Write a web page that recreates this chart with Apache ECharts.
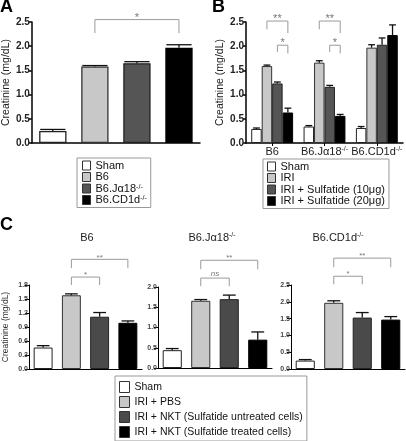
<!DOCTYPE html>
<html><head><meta charset="utf-8">
<script src="https://cdn.jsdelivr.net/npm/echarts@6/dist/echarts.min.js"></script>
<style>html,body{margin:0;padding:0;background:#fff}#c{width:406px;height:441px}</style>
</head><body><div id="c"></div>
<script>
const FONT = '"Liberation Sans", Arial, sans-serif';
// ---- Panel A ----
const aNames = ['Sham', 'B6', 'B6.Jα18-/-', 'B6.CD1d-/-'];
const aMean = [0.25, 1.58, 1.65, 1.97];
const aSem = [0.03, 0.02, 0.03, 0.06];
// significance: [cat1, cat2, level, dropLeft, dropRight, text]
const aSig = [[1, 3, 2.55, 2.27, 2.27, '*']];
// ---- Panel B ----
const bGroups = ['B6', 'B6.Jα18-/-', 'B6.CD1d-/-'];
const bNames = ['Sham', 'IRI', 'IRI + Sulfatide (10μg)', 'IRI + Sulfatide (20μg)'];
const bSham = [0.29, 0.34, 0.31];
const bIRI = [1.59, 1.66, 1.97];
const bSulf10 = [1.23, 1.16, 2.03];
const bSulf20 = [0.63, 0.56, 2.23];
const bShamSem = [0.02, 0.02, 0.03];
const bIRISem = [0.02, 0.04, 0.06];
const bSulf10Sem = [0.03, 0.03, 0.14];
const bSulf20Sem = [0.09, 0.03, 0.21];
// [group, series1, series2, level, dropLeft, dropRight, text]
const bSig = [[0, 1, 3, 2.52, 2.35, 2.27, '**'], [0, 2, 3, 2.02, 1.88, 1.85, '*'],
              [1, 1, 3, 2.52, 2.35, 2.27, '**'], [1, 2, 3, 2.02, 1.88, 1.85, '*']];
// ---- Panel C ----
const cTitles = ['B6', 'B6.Jα18-/-', 'B6.CD1d-/-'];
const cNames = ['Sham', 'IRI + PBS', 'IRI + NKT (Sulfatide untreated cells)', 'IRI + NKT (Sulfatide treated cells)'];
const cB6 = [0.46, 1.58, 1.12, 0.99];
const cB6Sem = [0.04, 0.03, 0.09, 0.04];
const cJa18 = [0.44, 1.66, 1.70, 0.70];
const cJa18Sem = [0.04, 0.03, 0.10, 0.19];
const cCD1d = [0.25, 1.97, 1.53, 1.47];
const cCD1dSem = [0.03, 0.06, 0.15, 0.09];
const cYMax = [1.8, 2.0, 2.5];
const cYStep = [0.3, 0.5, 0.5];
const cSigB6 = [[1, 3, 2.35, 2.16, 2.16, '**'], [1, 2, 1.97, 1.80, 1.80, '*']];
const cSigJa18 = [[1, 3, 2.66, 2.44, 2.44, '**'], [1, 2, 2.22, 2.02, 2.02, 'ns']];
const cSigCD1d = [[1, 3, 3.30, 3.03, 3.03, '**'], [1, 2, 2.76, 2.52, 2.52, '*']];

const fills = ['#ffffff', '#c8c8c8', '#555555', '#000000'];
const fillsC = ['#ffffff', '#c8c8c8', '#4a4a4a', '#000000'];
const borders = ['#222222', '#333333', '#222222', '#000000'];

const supFmt = s => s.replace('-/-', '{s|-/-}');

function errRender(capFrac) {
  return function (params, api) {
    const cat = api.value(0), off = api.value(1), m = api.value(2), t = api.value(3);
    const w = api.size([1, 0])[0];
    const p0 = api.coord([cat, m]), p1 = api.coord([cat, t]);
    const x = p0[0] + off * w, hw = capFrac * w / 2;
    return { type: 'group', children: [
      { type: 'line', shape: { x1: x, y1: p0[1], x2: x, y2: p1[1] }, style: { stroke: '#111', lineWidth: 1.3 } },
      { type: 'line', shape: { x1: x - hw, y1: p1[1], x2: x + hw, y2: p1[1] }, style: { stroke: '#111', lineWidth: 1.3 } }
    ] };
  };
}
function sigRender(texts, fs) {
  return function (params, api) {
    const c1 = api.value(0), o1 = api.value(1), c2 = api.value(2), o2 = api.value(3);
    const lv = api.value(4), yl = api.value(5), yr = api.value(6);
    const w = api.size([1, 0])[0];
    const x1 = api.coord([c1, lv])[0] + o1 * w, x2 = api.coord([c2, lv])[0] + o2 * w;
    const yT = api.coord([c1, lv])[1], yL = api.coord([c1, yl])[1], yR = api.coord([c2, yr])[1];
    const txt = texts[params.dataIndex];
    return { type: 'group', children: [
      { type: 'polyline', shape: { points: [[x1, yL], [x1, yT], [x2, yT], [x2, yR]] }, style: { stroke: '#9a9a9a', lineWidth: 1, fill: null } },
      { type: 'text', style: { text: txt, x: (x1 + x2) / 2, y: yT - (txt === 'ns' ? 4 : 2), align: 'center', verticalAlign: 'middle',
        fill: '#777', fontSize: fs, fontFamily: FONT, fontStyle: txt === 'ns' ? 'italic' : 'normal' } }
    ] };
  };
}

const grids = [
  { left: 28, top: 22, width: 172, height: 121 },
  { left: 246, top: 22, width: 157, height: 121 },
  { left: 28, top: 285, width: 114, height: 84 },
  { left: 158, top: 287, width: 114, height: 81 },
  { left: 291, top: 285, width: 114, height: 84 }
];
const idx4 = [0, 1, 2, 3];
const xAxes = [
  { gridIndex: 0, type: 'category', data: idx4, axisLine: { lineStyle: { color: '#000', width: 1.5 } }, axisTick: { show: false }, axisLabel: { show: false } },
  { gridIndex: 1, type: 'category', data: bGroups, axisLine: { lineStyle: { color: '#000', width: 1.5 } },
    axisTick: { show: true, alignWithLabel: true, length: 3, lineStyle: { color: '#000' } },
    axisLabel: { interval: 0, hideOverlap: false, margin: 3, fontSize: 11, color: '#222', fontFamily: FONT, formatter: supFmt,
      rich: { s: { fontSize: 7, verticalAlign: 'top', fontFamily: FONT, color: '#222' } } } },
  { gridIndex: 2, type: 'category', data: idx4, axisLine: { lineStyle: { color: '#000', width: 1 } }, axisTick: { show: false }, axisLabel: { show: false } },
  { gridIndex: 3, type: 'category', data: idx4, axisLine: { lineStyle: { color: '#000', width: 1 } }, axisTick: { show: false }, axisLabel: { show: false } },
  { gridIndex: 4, type: 'category', data: idx4, axisLine: { lineStyle: { color: '#000', width: 1 } }, axisTick: { show: false }, axisLabel: { show: false } }
];
function yBig(gi, gap) {
  return { gridIndex: gi, type: 'value', min: 0, max: 2.5, interval: 0.5, splitLine: { show: false },
    axisLine: { show: true, lineStyle: { color: '#000', width: 1.5 } },
    axisTick: { show: true, length: 3, lineStyle: { color: '#000', width: 1.5 } },
    axisLabel: { margin: 2, fontSize: 10, fontWeight: 'bold', color: '#222', fontFamily: FONT, formatter: v => v.toFixed(1) },
    name: 'Creatinine (mg/dL)', nameLocation: 'middle', nameGap: gap,
    nameTextStyle: { fontSize: 10.5, color: '#222', fontFamily: FONT } };
}
function ySmall(gi, k) {
  const o = { gridIndex: gi, type: 'value', min: 0, max: cYMax[k], interval: cYStep[k], splitLine: { show: false },
    axisLine: { show: true, lineStyle: { color: '#000', width: 1 } },
    axisTick: { show: true, length: 4, lineStyle: { color: '#000', width: 1 } },
    axisLabel: { margin: 1, fontSize: 7, fontWeight: 'bold', color: '#444', fontFamily: FONT, formatter: v => v.toFixed(1) } };
  if (k === 0) {
    o.name = 'Creatinine (mg/dL)'; o.nameLocation = 'middle'; o.nameGap = 19;
    o.nameTextStyle = { fontSize: 8.5, color: '#333', fontFamily: FONT };
  }
  return o;
}
const yAxes = [yBig(0, 18), yBig(1, 20), ySmall(2, 0), ySmall(3, 1), ySmall(4, 2)];

const series = [];
// A bars
aNames.forEach((n, i) => {
  series.push({ type: 'bar', name: n, xAxisIndex: 0, yAxisIndex: 0, barWidth: '65%', barGap: '-100%',
    data: aMean.map((v, j) => j === i ? v : '-'),
    itemStyle: { color: fills[i], borderColor: borders[i], borderWidth: 1.3 } });
});
series.push({ type: 'custom', xAxisIndex: 0, yAxisIndex: 0, clip: false, z: 5,
  data: aMean.map((v, i) => [i, 0, v, +(v + aSem[i]).toFixed(3)]), renderItem: errRender(0.6), encode: { x: 0, y: [2, 3] } });
series.push({ type: 'custom', xAxisIndex: 0, yAxisIndex: 0, clip: false, z: 5,
  data: aSig.map(s => [s[0], 0, s[1], 0, s[2], s[3], s[4]]), renderItem: sigRender(aSig.map(s => s[5]), 11), encode: { x: 0, y: 4 } });
// B bars
const bVals = [bSham, bIRI, bSulf10, bSulf20];
const bSems = [bShamSem, bIRISem, bSulf10Sem, bSulf20Sem];
bNames.forEach((n, i) => {
  series.push({ type: 'bar', name: n, xAxisIndex: 1, yAxisIndex: 1, barWidth: '20%', barGap: '0%',
    data: bVals[i], itemStyle: { color: fills[i], borderColor: borders[i], borderWidth: 1 } });
});
const bErrData = [];
bVals.forEach((arr, s) => arr.forEach((v, g) => bErrData.push([g, (s - 1.5) * 0.2, v, +(v + bSems[s][g]).toFixed(3)])));
series.push({ type: 'custom', xAxisIndex: 1, yAxisIndex: 1, clip: false, z: 5, data: bErrData, renderItem: errRender(0.13), encode: { x: 0, y: [2, 3] } });
series.push({ type: 'custom', xAxisIndex: 1, yAxisIndex: 1, clip: false, z: 5,
  data: bSig.map(s => [s[0], (s[1] - 1.5) * 0.2, s[0], (s[2] - 1.5) * 0.2, s[3], s[4], s[5]]),
  renderItem: sigRender(bSig.map(s => s[6]), 11), encode: { x: 0, y: 4 } });
// C bars
const cVals = [cB6, cJa18, cCD1d];
const cSems = [cB6Sem, cJa18Sem, cCD1dSem];
const cSigs = [cSigB6, cSigJa18, cSigCD1d];
cVals.forEach((vals, k) => {
  cNames.forEach((n, i) => {
    series.push({ type: 'bar', name: n, xAxisIndex: 2 + k, yAxisIndex: 2 + k, barWidth: '67%', barGap: '-100%',
      data: vals.map((v, j) => j === i ? v : '-'),
      itemStyle: { color: fillsC[i], borderColor: borders[i], borderWidth: 1 } });
  });
  series.push({ type: 'custom', xAxisIndex: 2 + k, yAxisIndex: 2 + k, clip: false, z: 5,
    data: vals.map((v, i) => [i, 0, v, +(v + cSems[k][i]).toFixed(3)]), renderItem: errRender(0.45), encode: { x: 0, y: [2, 3] } });
  series.push({ type: 'custom', xAxisIndex: 2 + k, yAxisIndex: 2 + k, clip: false, z: 5,
    data: cSigs[k].map(s => [s[0], 0, s[1], 0, s[2], s[3], s[4]]), renderItem: sigRender(cSigs[k].map(s => s[5]), 8), encode: { x: 0, y: 4 } });
});

function legendCfg(names, left, top, fs, lh, iw, ih, gap, pad) {
  return { data: names, left: left, top: top, orient: 'vertical', selectedMode: false, icon: 'rect',
    itemWidth: iw, itemHeight: ih, itemGap: gap, padding: pad, borderColor: '#999', borderWidth: 1,
    itemStyle: { borderColor: '#333', borderWidth: 1 },
    formatter: supFmt,
    textStyle: { fontSize: fs, lineHeight: lh, color: '#111', fontFamily: FONT,
      rich: { s: { fontSize: 7, verticalAlign: 'top', lineHeight: lh, color: '#111', fontFamily: FONT } } } };
}
const legends = [
  legendCfg(aNames, 77, 158, 11, 10, 8, 9, 0.5, [2, 4, 2, 5]),
  legendCfg(bNames, 263, 159, 11, 10, 8, 9, 0.5, [2, 4, 2, 4]),
  legendCfg(cNames, 115, 376, 10.5, 12, 10, 11, 3, [5, 4, 3, 4])
];

const titles = [
  { text: 'A', left: 0, top: -2, padding: 0, textStyle: { fontSize: 18, fontWeight: 'bold', color: '#000', fontFamily: FONT } },
  { text: 'B', left: 212, top: -2, padding: 0, textStyle: { fontSize: 18, fontWeight: 'bold', color: '#000', fontFamily: FONT } },
  { text: 'C', left: 0, top: 216, padding: 0, textStyle: { fontSize: 18, fontWeight: 'bold', color: '#000', fontFamily: FONT } }
];
const cTitleX = [87, 212, 338];
cTitles.forEach((t, k) => titles.push({ text: supFmt(t), left: cTitleX[k], top: 232, padding: 0, textAlign: 'center',
  textStyle: { fontSize: 11, fontWeight: 'normal', color: '#222', fontFamily: FONT,
    rich: { s: { fontSize: 7, verticalAlign: 'top', color: '#222', fontFamily: FONT } } } }));

const chart = echarts.init(document.getElementById('c'), null, { renderer: 'canvas' });
chart.setOption({ animation: false, backgroundColor: '#fff', title: titles, grid: grids, xAxis: xAxes, yAxis: yAxes,
  legend: legends, series: series });
</script></body></html>
